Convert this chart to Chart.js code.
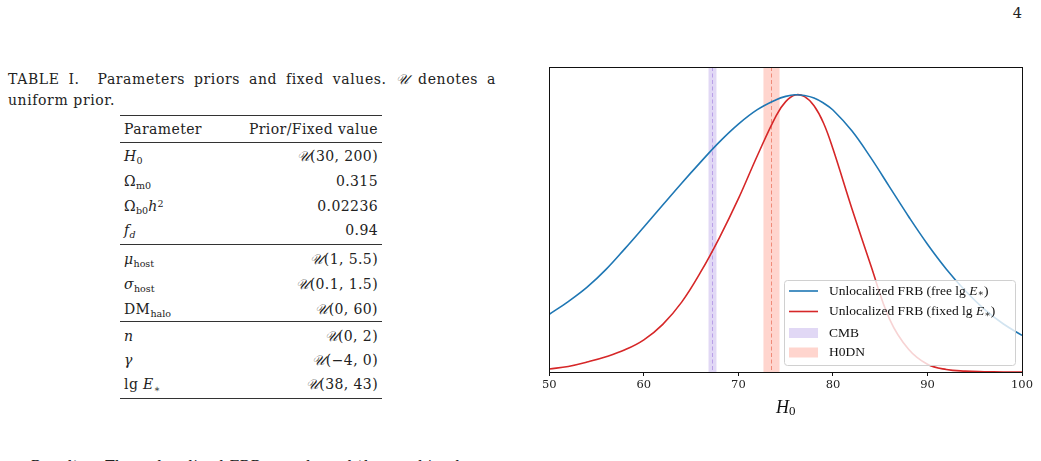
<!DOCTYPE html>
<html>
<head>
<meta charset="utf-8">
<title>H0 posteriors</title>
<script src="https://cdn.jsdelivr.net/npm/chart.js@4.4.1/dist/chart.umd.min.js"></script>
<style>
  html, body { margin: 0; padding: 0; background: #fff; }
  body { width: 1041px; height: 461px; overflow: hidden; position: relative;
         font-family: "DejaVu Serif", "Liberation Serif", serif; color: #222; }
  .abs { position: absolute; white-space: nowrap; }
  #pagenum { right: 19px; top: 5px; font-size: 14.5px; }
  #cap1 { left: 8px; top: 69px; width: 488px; font-size: 14px; line-height: 20px;
          letter-spacing: 0.6px; text-align: justify; text-align-last: justify; }
  #cap2 { left: 8px; top: 90px; font-size: 14px; line-height: 20px; letter-spacing: 0.6px; }
  .row { left: 124px; width: 254px; height: 24px; line-height: 24px; font-size: 14px;
         letter-spacing: 0.4px; }
  .row .v { position: absolute; right: 0; top: 0; }
  .rule { left: 120px; width: 262px; height: 1px; background: #333; }
  sub { font-size: 68%; vertical-align: -0.3em; line-height: 0; letter-spacing: 0; }
  sup { font-size: 68%; vertical-align: 0.45em; line-height: 0; }
  .scr { font-style: italic; }
  #results { left: 30px; top: 456px; font-size: 14px; line-height: 20px; letter-spacing: 0.5px; }
  #plotbox { position: absolute; left: 540px; top: 60px; width: 495px; height: 360px; }
</style>
</head>
<body>

<div class="abs" id="pagenum">4</div>

<div class="abs" id="cap1">TABLE I. &nbsp;Parameters priors and fixed values. <span class="scr">𝒰</span> denotes a</div>
<div class="abs" id="cap2">uniform prior.</div>

<div class="abs rule" style="top:115px"></div>
<div class="abs row" style="top:117px">Parameter<span class="v">Prior/Fixed value</span></div>
<div class="abs rule" style="top:142px"></div>
<div class="abs row" style="top:144px"><i>H</i><sub>0</sub><span class="v"><span class="scr">𝒰</span>(30, 200)</span></div>
<div class="abs row" style="top:169px">Ω<sub>m0</sub><span class="v">0.315</span></div>
<div class="abs row" style="top:194px">Ω<sub>b0</sub><i>h</i><sup>2</sup><span class="v">0.02236</span></div>
<div class="abs row" style="top:218px"><i>f<sub>d</sub></i><span class="v">0.94</span></div>
<div class="abs rule" style="top:244px"></div>
<div class="abs row" style="top:247px"><i>μ</i><sub>host</sub><span class="v"><span class="scr">𝒰</span>(1, 5.5)</span></div>
<div class="abs row" style="top:272px"><i>σ</i><sub>host</sub><span class="v"><span class="scr">𝒰</span>(0.1, 1.5)</span></div>
<div class="abs row" style="top:297px">DM<sub>halo</sub><span class="v"><span class="scr">𝒰</span>(0, 60)</span></div>
<div class="abs rule" style="top:321px"></div>
<div class="abs row" style="top:324px"><i>n</i><span class="v"><span class="scr">𝒰</span>(0, 2)</span></div>
<div class="abs row" style="top:348px"><i>γ</i><span class="v"><span class="scr">𝒰</span>(−4, 0)</span></div>
<div class="abs row" style="top:372px">lg <i>E</i><sub>∗</sub><span class="v"><span class="scr">𝒰</span>(38, 43)</span></div>
<div class="abs rule" style="top:398px"></div>

<div class="abs" id="results"><i>Results.</i>—The unlocalized FRB sample and the combined</div>

<div id="plotbox"><canvas id="h0Chart" width="495" height="360"></canvas></div>

<script>
'use strict';

// ***** DATA *****

// H0 grid, km/s/Mpc
let h0Grid = [50, 52, 54, 56, 58, 60, 62, 64, 66, 68, 70, 72, 74,
  75, 76, 77, 78, 79,
  80, 82, 84, 86, 88, 90, 92, 94, 96, 98, 100];

// normalised posterior, free lg E*
let freeLgE = [0.208, 0.254, 0.306, 0.370, 0.445, 0.523, 0.602, 0.681, 0.757,
  0.830, 0.894, 0.946, 0.982,
  0.994, 1.000, 0.997, 0.988, 0.970,
  0.945, 0.870, 0.773, 0.667, 0.561, 0.461, 0.371, 0.293, 0.227, 0.174, 0.132];

// normalised posterior, fixed lg E*
let fixedLgE = [0.011, 0.020, 0.036, 0.055, 0.080, 0.116, 0.172, 0.252, 0.360,
  0.485, 0.625, 0.780, 0.925,
  0.975, 0.999, 0.993, 0.960, 0.898,
  0.805, 0.590, 0.385, 0.190, 0.082, 0.028, 0.009, 0.003, 0.001, 0.000, 0.000];

let seriesNames = ['Unlocalized FRB (free lg ', 'Unlocalized FRB (fixed lg '];

// reference H0 measurements: name, mean, 1-sigma
let bandNames = ['CMB', 'H0DN'];
let bandMeans = [67.26, 73.5];
let bandSigmas = [0.42, 0.85];

let xTicks = [50, 60, 70, 80, 90, 100];

// ***** STYLE *****
const serif = '"Liberation Serif", "DejaVu Serif", serif';
const tickFont = '"DejaVu Serif", serif';
const lineColors = ['#1f77b4', '#d62728'];
const bandFill = ['rgb(225, 216, 245)', 'rgb(255, 213, 206)'];
const bandLine = ['rgb(185, 160, 232)', 'rgb(240, 138, 120)'];

function pts(ys) {
  return h0Grid.map((x, i) => ({ x: x, y: ys[i] }));
}

// bands + dashed centre lines, behind the curves
const bandsPlugin = {
  id: 'bands',
  beforeDatasetsDraw(chart) {
    const c = chart.ctx;
    const a = chart.chartArea;
    const xs = chart.scales.x;
    c.save();
    for (let i = 0; i < bandNames.length; i++) {
      let x0 = xs.getPixelForValue(bandMeans[i] - bandSigmas[i]);
      let x1 = xs.getPixelForValue(bandMeans[i] + bandSigmas[i]);
      c.fillStyle = bandFill[i];
      c.fillRect(x0, a.top, x1 - x0, a.bottom - a.top);
      let xm = Math.round(xs.getPixelForValue(bandMeans[i])) + 0.5;
      c.strokeStyle = bandLine[i];
      c.lineWidth = 1;
      c.setLineDash([4, 2.5]);
      c.beginPath();
      c.moveTo(xm, a.top);
      c.lineTo(xm, a.bottom);
      c.stroke();
    }
    c.restore();
  }
};

// legend box (semi transparent, over the curves) and frame
const frameLegendPlugin = {
  id: 'frameLegend',
  afterDatasetsDraw(chart) {
    const c = chart.ctx;
    const a = chart.chartArea;
    const w = 231, h = 85;
    const L = a.right - 7 - w, T = a.bottom - 7 - h;
    c.save();
    c.beginPath();
    c.roundRect(L + 0.5, T + 0.5, w, h, 3);
    c.fillStyle = 'rgba(255,255,255,0.8)';
    c.fill();
    c.strokeStyle = '#d0d0d0';
    c.lineWidth = 1;
    c.stroke();

    let rowY = [T + 11, T + 31.5, T + 53, T + 72.5];
    c.textBaseline = 'middle';
    c.fillStyle = '#111';
    for (let i = 0; i < 2; i++) {
      c.strokeStyle = lineColors[i];
      c.lineWidth = 1.6;
      c.beginPath();
      c.moveTo(L + 5, rowY[i]);
      c.lineTo(L + 34, rowY[i]);
      c.stroke();
      let x = L + 45;
      c.font = '13.5px ' + serif;
      c.fillText(seriesNames[i], x, rowY[i]);
      x += c.measureText(seriesNames[i]).width;
      c.font = 'italic 13.5px ' + serif;
      c.fillText('E', x, rowY[i]);
      x += c.measureText('E').width;
      c.font = '9px ' + serif;
      c.fillText('∗', x, rowY[i] + 3);
      x += c.measureText('∗').width + 0.5;
      c.font = '13.5px ' + serif;
      c.fillText(')', x, rowY[i]);
    }
    for (let i = 0; i < bandNames.length; i++) {
      c.fillStyle = bandFill[i];
      c.fillRect(L + 5, rowY[i + 2] - 5, 29, 10);
      c.fillStyle = '#111';
      c.font = '13.5px ' + serif;
      c.fillText(bandNames[i], L + 45, rowY[i + 2]);
    }

    // axes frame
    c.strokeStyle = '#111';
    c.lineWidth = 1;
    c.strokeRect(Math.round(a.left) + 0.5, Math.round(a.top) + 0.5,
      Math.round(a.right - a.left), Math.round(a.bottom - a.top));
    c.restore();
  },
  afterDraw(chart) {
    // x axis title: italic H with subscript 0
    const c = chart.ctx;
    const a = chart.chartArea;
    const cx = (a.left + a.right) / 2;
    const y = a.bottom + 36;
    c.save();
    c.fillStyle = '#111';
    c.textBaseline = 'middle';
    c.font = 'italic 18px ' + serif;
    let wH = c.measureText('H').width;
    c.font = '13px ' + serif;
    let w0 = c.measureText('0').width;
    let x = cx - (wH + w0) / 2;
    c.font = 'italic 18px ' + serif;
    c.fillText('H', x, y);
    c.font = '13px ' + serif;
    c.fillText('0', x + wH, y + 4);
    c.restore();
  }
};

const ctx = document.getElementById('h0Chart').getContext('2d');

const chartObj = {
  type: 'line',
  data: {
    datasets: [
      {
        label: seriesNames[0],
        data: pts(freeLgE),
        borderColor: lineColors[0],
        borderWidth: 1.6,
        pointRadius: 0,
        fill: false,
        tension: 0.4
      },
      {
        label: seriesNames[1],
        data: pts(fixedLgE),
        borderColor: lineColors[1],
        borderWidth: 1.6,
        pointRadius: 0,
        fill: false,
        tension: 0.4
      }
    ]
  },
  options: {
    responsive: false,
    animation: false,
    devicePixelRatio: 1,
    layout: { padding: { left: 7, right: 10, top: 7, bottom: 0 } },
    plugins: {
      legend: { display: false },
      tooltip: { enabled: false }
    },
    scales: {
      x: {
        type: 'linear',
        min: 50,
        max: 100,
        afterBuildTicks: (scale) => {
          scale.ticks = xTicks.map(v => ({ value: v }));
        },
        afterFit: (scale) => { scale.height = 48; },
        grid: {
          drawOnChartArea: false,
          drawTicks: true,
          tickLength: 4,
          color: '#111'
        },
        border: { color: '#111', width: 1 },
        ticks: {
          color: '#222',
          padding: 2,
          maxRotation: 0,
          font: { family: tickFont, size: 11.5 }
        },
        title: { display: false }
      },
      y: {
        display: false,
        min: 0,
        max: 1.1
      }
    }
  },
  plugins: [bandsPlugin, frameLegendPlugin]
};

const h0Chart = new Chart(ctx, chartObj); // eslint-disable-line
</script>
</body>
</html>
